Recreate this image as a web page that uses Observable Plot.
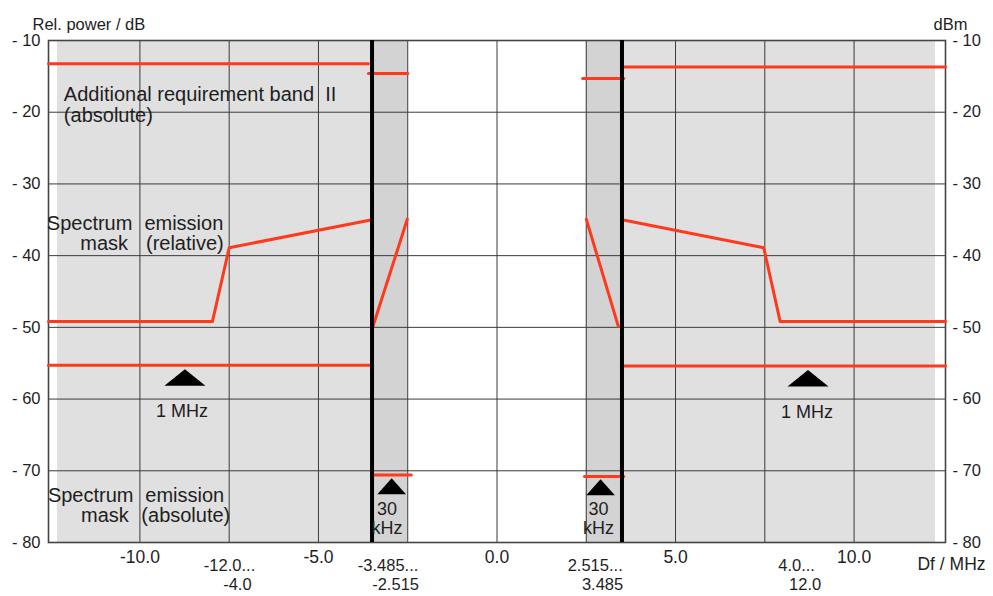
<!DOCTYPE html>
<html>
<head>
<meta charset="utf-8">
<script src="https://cdn.jsdelivr.net/npm/d3@7"></script>
<script src="https://cdn.jsdelivr.net/npm/@observablehq/plot@0.6"></script>
<style>
  html, body { margin: 0; padding: 0; background: #fff; }
  svg text { white-space: pre; }
</style>
</head>
<body>
<div id="chart"></div>
<script>
// ---- data ----
const yTicks = [-10, -20, -30, -40, -50, -60, -70, -80];
const xTicks = [-10, -5, 0, 5, 10];
const xGrid = [-10, -7.5, -5, -3.5, -2.5, 0, 2.5, 3.5, 5, 7.5, 10];
const carrierEdges = [-3.5, 3.5];
const outerBands = [{x1: -12.31, x2: -3.5}, {x1: 3.5, x2: 12.28}];
const innerBands = [{x1: -3.5, x2: -2.5}, {x1: 2.5, x2: 3.5}];

// red limit lines: [x, y] points per series
const addReqLeft      = [[-12.56, -13.25], [-3.6, -13.25]];
const addReqLeftBand  = [[-3.6, -14.6], [-2.5, -14.6]];
const addReqRightBand = [[2.4, -15.3], [3.55, -15.3]];
const addReqRight     = [[3.55, -13.7], [12.56, -13.7]];
const relLeft         = [[-12.56, -49.2], [-7.97, -49.2], [-7.5, -38.9], [-3.5, -35]];
const relLeftBand     = [[-3.47, -49.8], [-2.51, -34.9]];
const relRightBand    = [[2.5, -34.9], [3.4, -49.9]];
const relRight        = [[3.5, -35], [7.47, -38.9], [7.93, -49.2], [12.56, -49.2]];
const absLeft         = [[-12.56, -55.3], [-3.55, -55.3]];
const absLeftBand     = [[-3.45, -70.6], [-2.4, -70.6]];
const absRightBand    = [[2.45, -70.8], [3.55, -70.8]];
const absRight        = [[3.55, -55.4], [12.56, -55.4]];

// RBW markers
const bigMarkers = [{x: -8.74, y: -57.0}, {x: 8.71, y: -57.1}];
const smallMarkers = [{x: -2.95, y: -72.15}, {x: 2.9, y: -72.3}];
const rbwBig = [{text: "1 MHz", x: -8.82, y: -61.7}, {text: "1 MHz", x: 8.68, y: -61.9}];
const rbwSmall = [
  {text: "30", x: -3.08, y: -75.4}, {text: "kHz", x: -3.08, y: -78.0},
  {text: "30", x: 2.84, y: -75.4}, {text: "kHz", x: 2.84, y: -78.0}
];

// annotations
const labelsStart = [
  {text: "Additional requirement band  II", x: -12.13, y: -17.6},
  {text: "(absolute)", x: -12.13, y: -20.5},
  {text: "emission", x: -9.875, y: -35.5},
  {text: "(relative)", x: -9.83, y: -38.35},
  {text: "emission", x: -9.85, y: -73.5},
  {text: "(absolute)", x: -9.96, y: -76.3}
];
const labelsEnd = [
  {text: "Spectrum", x: -10.21, y: -35.5},
  {text: "mask", x: -10.33, y: -38.35},
  {text: "Spectrum", x: -10.18, y: -73.5},
  {text: "mask", x: -10.31, y: -76.3}
];

// x range labels (two rows)
const rangeRow1 = [
  {text: "-12.0...", x: -7.49}, {text: "-3.485...", x: -3.05},
  {text: "2.515...", x: 2.75}, {text: "4.0...", x: 8.39}
];
const rangeRow2 = [
  {text: "-4.0", x: -7.27}, {text: "-2.515", x: -2.84},
  {text: "3.485", x: 2.955}, {text: "12.0", x: 8.63}
];

// ---- build ----
const seriesList = {addReqLeft, addReqLeftBand, addReqRightBand, addReqRight, relLeft, relLeftBand,
  relRightBand, relRight, absLeft, absLeftBand, absRightBand, absRight};
const lineRows = Object.entries(seriesList).flatMap(([name, pts]) => pts.map(([x, y]) => ({name, x, y})));

const wideTriangle = {draw(ctx) { ctx.moveTo(-20.5, 8.3); ctx.lineTo(0, -8.3); ctx.lineTo(20.5, 8.3); ctx.closePath(); }};
const smallTriangle = {draw(ctx) { ctx.moveTo(-14.3, 8); ctx.lineTo(0, -8); ctx.lineTo(14.3, 8); ctx.closePath(); }};
const yFmt = d => "- " + Math.abs(d);
const ink = "#1e1e1e";
const red = "#ff3a1c";

const chart = Plot.plot({
  width: 993,
  height: 596,
  marginLeft: 48,
  marginRight: 48,
  marginTop: 40,
  marginBottom: 54,
  style: {fontFamily: "'Liberation Sans', Arial, sans-serif", background: "#fff", color: ink, overflow: "visible"},
  x: {domain: [-12.56, 12.56]},
  y: {domain: [-80, -10]},
  marks: [
    Plot.rect(outerBands, {x1: "x1", x2: "x2", fill: "#e0e0e0"}),
    Plot.rect(innerBands, {x1: "x1", x2: "x2", fill: "#d3d3d3"}),
    Plot.ruleX(xGrid, {stroke: "#3a3a3a", strokeWidth: 1}),
    Plot.ruleY(yTicks, {stroke: "#3a3a3a", strokeWidth: 1}),
    Plot.frame({stroke: "#444", strokeWidth: 1.6}),
    Plot.line(lineRows, {x: "x", y: "y", z: "name", stroke: red, strokeWidth: 3}),
    Plot.ruleX(carrierEdges, {stroke: "#000", strokeWidth: 4}),
    Plot.dot(bigMarkers, {x: "x", y: "y", symbol: wideTriangle, fill: "#000", stroke: "none"}),
    Plot.dot(smallMarkers, {x: "x", y: "y", symbol: smallTriangle, fill: "#000", stroke: "none"}),
    Plot.text(rbwBig, {x: "x", y: "y", text: "text", fontSize: 18, fill: ink}),
    Plot.text(rbwSmall, {x: "x", y: "y", text: "text", fontSize: 18, fill: ink}),
    Plot.text(labelsStart, {x: "x", y: "y", text: "text", textAnchor: "start", fontSize: 20, fill: ink}),
    Plot.text(labelsEnd, {x: "x", y: "y", text: "text", textAnchor: "end", fontSize: 20, fill: ink}),
    Plot.axisY({anchor: "left", ticks: yTicks, tickSize: 0, tickPadding: 8, tickFormat: yFmt, fontSize: 16.5, label: null}),
    Plot.axisY({anchor: "right", ticks: yTicks, tickSize: 0, tickPadding: 7, tickFormat: yFmt, fontSize: 16.5, label: null}),
    Plot.axisX({ticks: xTicks, tickSize: 0, tickPadding: 8, tickFormat: d => d.toFixed(1), fontSize: 17.5, label: null}),
    Plot.text(rangeRow1, {x: "x", text: "text", frameAnchor: "bottom", dy: 28, fontSize: 16.5, fill: ink}),
    Plot.text(rangeRow2, {x: "x", text: "text", frameAnchor: "bottom", dy: 47, fontSize: 16.5, fill: ink}),
    Plot.text(["Rel. power / dB"], {frameAnchor: "top-left", dx: -16, dy: -22, textAnchor: "start", fontSize: 16.5, fill: ink}),
    Plot.text(["dBm"], {frameAnchor: "top-right", dx: 5, dy: -22, textAnchor: "middle", fontSize: 16.5, fill: ink}),
    Plot.text(["Df / MHz"], {frameAnchor: "bottom-right", dx: 6, dy: 27, textAnchor: "middle", fontSize: 17.5, fill: ink})
  ]
});
document.getElementById("chart").appendChild(chart);
</script>
</body>
</html>
